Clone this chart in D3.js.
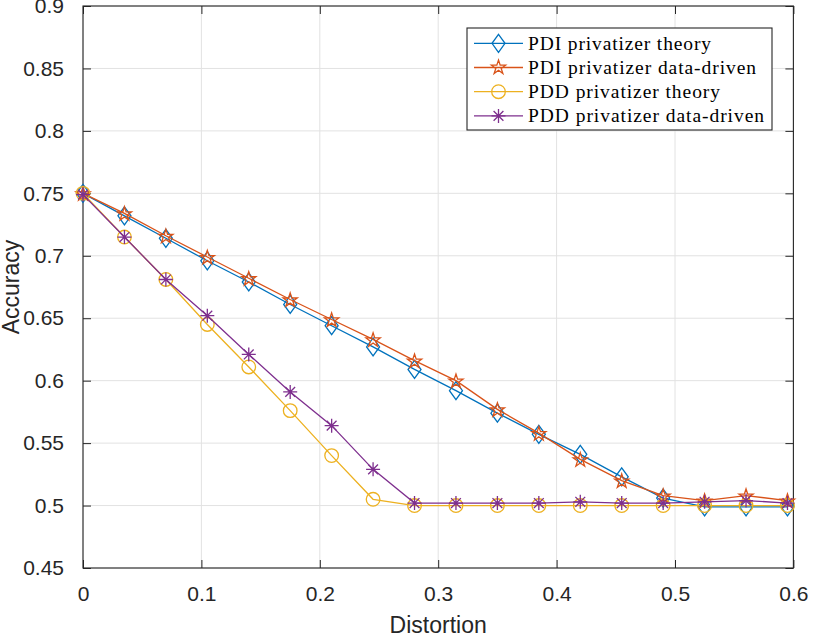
<!DOCTYPE html>
<html>
<head>
<meta charset="utf-8">
<script src="https://cdn.jsdelivr.net/npm/d3@7"></script>
<style>
  html, body { margin: 0; padding: 0; background: #fff; }
  svg { display: block; }
</style>
</head>
<body>
<svg id="chart" width="813" height="637"></svg>
<script>
// ---- data ----
const distortion = [0, 0.035, 0.07, 0.105, 0.14, 0.175, 0.21, 0.245, 0.28, 0.315, 0.35, 0.385, 0.42, 0.455, 0.49, 0.525, 0.56, 0.595];
const pdiTheory  = [0.750, 0.732, 0.714, 0.696, 0.679, 0.661, 0.644, 0.627, 0.609, 0.592, 0.574, 0.557, 0.541, 0.523, 0.506, 0.499, 0.499, 0.499];
const pdiData    = [0.750, 0.734, 0.716, 0.699, 0.682, 0.665, 0.649, 0.633, 0.616, 0.600, 0.577, 0.558, 0.537, 0.520, 0.508, 0.504, 0.508, 0.504];
const pddTheory  = [0.750, 0.715, 0.681, 0.645, 0.611, 0.576, 0.540, 0.505, 0.500, 0.500, 0.500, 0.500, 0.500, 0.500, 0.500, 0.500, 0.500, 0.500];
const pddData    = [0.749, 0.715, 0.681, 0.652, 0.621, 0.591, 0.564, 0.529, 0.502, 0.502, 0.502, 0.502, 0.503, 0.502, 0.502, 0.503, 0.504, 0.502];
const seriesNames = ["PDI privatizer theory", "PDI privatizer data-driven", "PDD privatizer theory", "PDD privatizer data-driven"];
const xTicks = [0, 0.1, 0.2, 0.3, 0.4, 0.5, 0.6];
const xTickLabels = ["0", "0.1", "0.2", "0.3", "0.4", "0.5", "0.6"];
const yTicks = [0.45, 0.5, 0.55, 0.6, 0.65, 0.7, 0.75, 0.8, 0.85, 0.9];
const yTickLabels = ["0.45", "0.5", "0.55", "0.6", "0.65", "0.7", "0.75", "0.8", "0.85", "0.9"];
const xLabel = "Distortion";
const yLabel = "Accuracy";

// ---- layout ----
const L = 83, R = 793.4, T = 6, B = 568;
const colors = ["#0072BD", "#D95319", "#EDB120", "#7E2F8E"];
const markers = ["diamond", "star", "circle", "asterisk"];
const allSeries = [pdiTheory, pdiData, pddTheory, pddData];
const axisColor = "#262626";
const gridColor = "#e2e2e2";

const svg = d3.select("#chart");
const x = d3.scaleLinear().domain([0, 0.6]).range([L, R]);
const y = d3.scaleLinear().domain([0.45, 0.9]).range([B, T]);

// grid
const grid = svg.append("g");
grid.selectAll("line.gx").data(xTicks).join("line")
  .attr("x1", d => x(d)).attr("x2", d => x(d)).attr("y1", T).attr("y2", B)
  .attr("stroke", gridColor).attr("stroke-width", 1);
grid.selectAll("line.gy").data(yTicks).join("line")
  .attr("y1", d => y(d)).attr("y2", d => y(d)).attr("x1", L).attr("x2", R)
  .attr("stroke", gridColor).attr("stroke-width", 1);

// axes via d3 axis generators (ticks inward)
const tickLen = 8;
const fontSans = "'Liberation Sans', Arial, Helvetica, sans-serif";
const axB = d3.axisBottom(x).tickValues(xTicks).tickFormat((d, i) => xTickLabels[i]).tickSizeInner(-tickLen).tickSizeOuter(0).tickPadding(18);
const axL = d3.axisLeft(y).tickValues(yTicks).tickFormat((d, i) => yTickLabels[i]).tickSizeInner(-tickLen).tickSizeOuter(0).tickPadding(19);
const axT = d3.axisTop(x).tickValues(xTicks).tickFormat("").tickSizeInner(-tickLen).tickSizeOuter(0);
const axR = d3.axisRight(y).tickValues(yTicks).tickFormat("").tickSizeInner(-tickLen).tickSizeOuter(0);

function styleAxis(g) {
  g.select(".domain").remove();
  g.selectAll(".tick line").attr("stroke", axisColor).attr("stroke-width", 1);
  g.selectAll(".tick text").attr("fill", axisColor).attr("font-family", fontSans).attr("font-size", 21);
}
svg.append("g").attr("transform", `translate(0,${B})`).call(axB).call(styleAxis);
svg.append("g").attr("transform", `translate(${L},0)`).call(axL).call(styleAxis);
svg.append("g").attr("transform", `translate(0,${T})`).call(axT).call(styleAxis);
svg.append("g").attr("transform", `translate(${R},0)`).call(axR).call(styleAxis);

// box
svg.append("rect").attr("x", L).attr("y", T).attr("width", R - L).attr("height", B - T)
  .attr("fill", "none").attr("stroke", axisColor).attr("stroke-width", 1.1);

// marker paths
function markerPath(type) {
  switch (type) {
    case "diamond": return "M0,-9 L6.5,0 L0,9 L-6.5,0 Z";
    case "circle": return "M6.8,0 A6.8,6.8 0 1,1 -6.8,0 A6.8,6.8 0 1,1 6.8,0 Z";
    case "star": return d3.symbol().type(d3.symbolStar).size(62)();
    case "asterisk": return "M0,-7 L0,7 M-7,0 L7,0 M-4.9,-4.9 L4.9,4.9 M-4.9,4.9 L4.9,-4.9";
  }
}

// series
const line = d3.line().x(d => x(d[0])).y(d => y(d[1]));
allSeries.forEach((vals, i) => {
  const pts = distortion.map((d, j) => [d, vals[j]]);
  const g = svg.append("g");
  g.append("path").attr("d", line(pts)).attr("fill", "none")
    .attr("stroke", colors[i]).attr("stroke-width", 1.3);
  g.selectAll("path.m").data(pts).join("path")
    .attr("class", "m")
    .attr("transform", d => `translate(${x(d[0])},${y(d[1])})` + (markers[i] === "star" ? " translate(0,0.8)" : ""))
    .attr("d", markerPath(markers[i]))
    .attr("fill", "none").attr("stroke", colors[i]).attr("stroke-width", 1.3);
});

// axis labels
svg.append("text").attr("x", (L + R) / 2).attr("y", 633).attr("text-anchor", "middle")
  .attr("font-family", fontSans).attr("font-size", 23).attr("fill", axisColor).text(xLabel);
svg.append("text").attr("transform", `translate(19,${(T + B) / 2}) rotate(-90)`).attr("text-anchor", "middle")
  .attr("font-family", fontSans).attr("font-size", 23).attr("fill", axisColor).text(yLabel);

// legend
const legX = 467, legY = 28, legW = 305, legH = 102;
const leg = svg.append("g");
leg.append("rect").attr("x", legX).attr("y", legY).attr("width", legW).attr("height", legH)
  .attr("fill", "#fff").attr("stroke", axisColor).attr("stroke-width", 1.1);
const legTextLen = [183, 228, 192, 236];
seriesNames.forEach((name, i) => {
  const cy = 43.3 + i * 24.2;
  leg.append("line").attr("x1", 474).attr("x2", 523).attr("y1", cy).attr("y2", cy)
    .attr("stroke", colors[i]).attr("stroke-width", 1.3);
  leg.append("path").attr("transform", `translate(498.5,${cy})`).attr("d", markerPath(markers[i]))
    .attr("fill", "none").attr("stroke", colors[i]).attr("stroke-width", 1.3);
  leg.append("text").attr("x", 528).attr("y", cy + 6.5)
    .attr("font-family", "'Liberation Serif', 'Times New Roman', serif").attr("font-size", 19.5)
    .attr("fill", "#000")
    .attr("textLength", legTextLen[i]).attr("lengthAdjust", "spacing")
    .text(name);
});
</script>
</body>
</html>
